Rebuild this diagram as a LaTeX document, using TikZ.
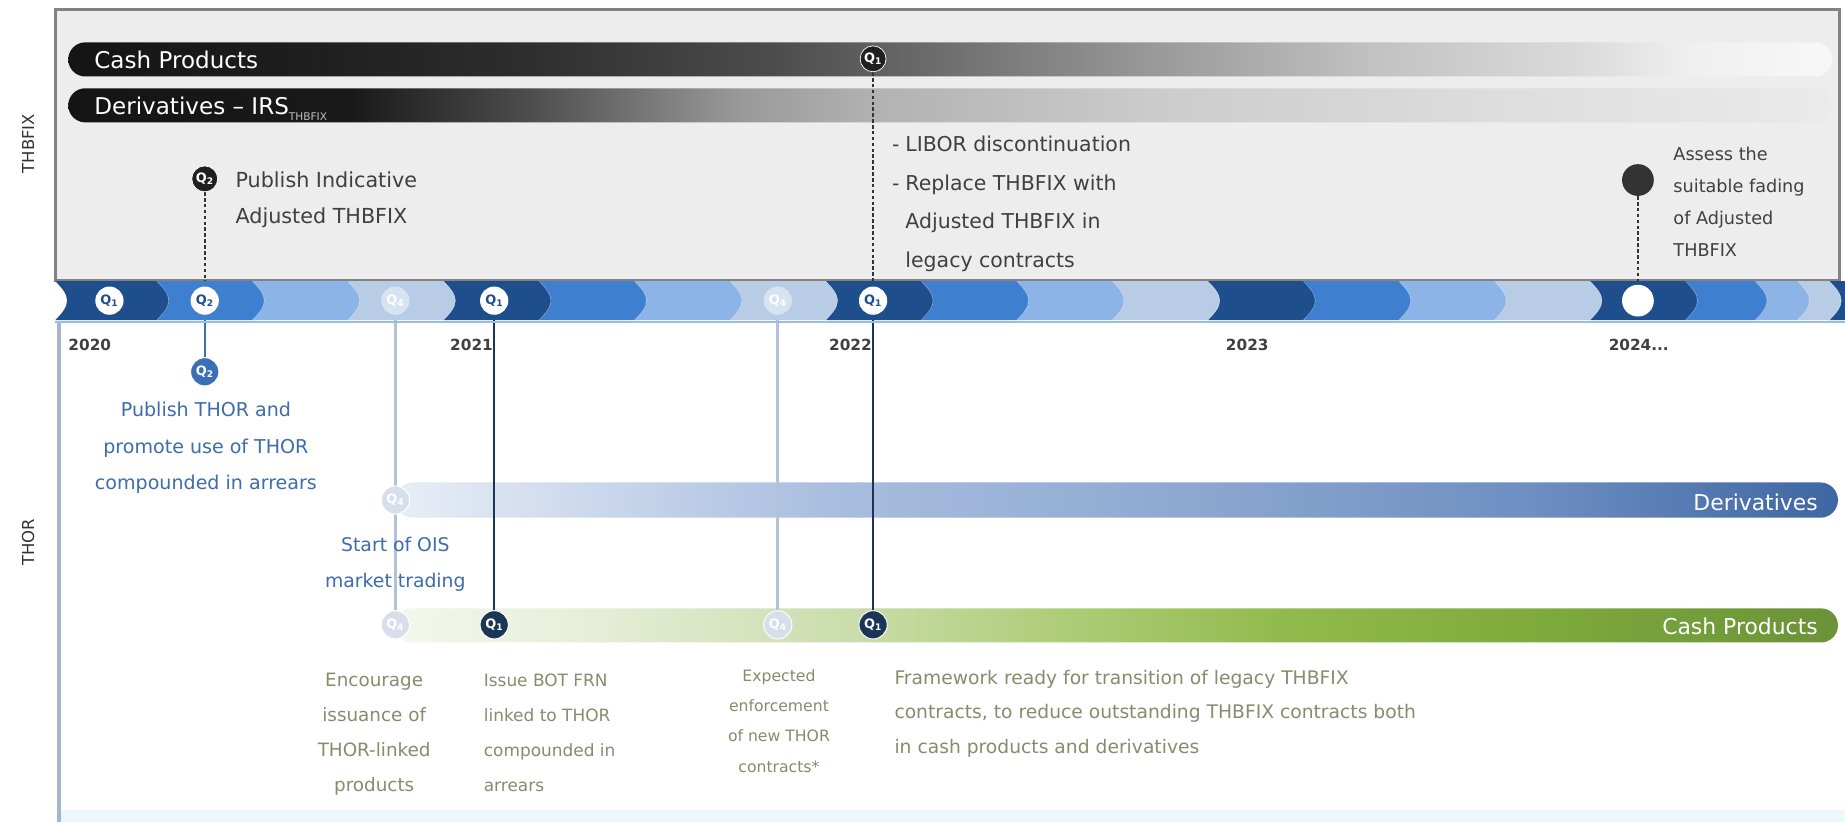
\documentclass[tikz,border=0pt]{standalone}
\usepackage{fontspec}
\setmainfont{DejaVu Sans}
\pgfdeclarelayer{bg}
\pgfdeclarelayer{bars}
\pgfdeclarelayer{lines}
\pgfdeclarelayer{band}
\pgfsetlayers{bg,bars,lines,band,main}

\definecolor{tlDark}{HTML}{1F4E8C}
\definecolor{tlMed}{HTML}{3F7FD0}
\definecolor{tlLight}{HTML}{8CB4E6}
\definecolor{tlPale}{HTML}{B8CCE6}
\definecolor{tlUnder}{HTML}{9DBCE4}
\definecolor{boxBg}{HTML}{EDEDED}
\definecolor{boxLine}{HTML}{828282}
\definecolor{navyQ}{HTML}{1B3556}
\definecolor{thorBlue}{HTML}{3A6FB5}
\definecolor{thorText}{HTML}{3D6DAA}
\definecolor{oliveText}{HTML}{8A8A6E}
\definecolor{fadeLn}{HTML}{B4C2D8}
\definecolor{fadeFill}{HTML}{D8DFEA}
\definecolor{darkText}{HTML}{404040}
\definecolor{lowStrip}{HTML}{EAF7FC}
\definecolor{lowLine}{HTML}{A5B5CA}

\definecolor{dvA}{HTML}{E8EEF6}
\definecolor{dvB}{HTML}{CCD8EC}
\definecolor{dvC}{HTML}{A9BEDF}
\definecolor{dvD}{HTML}{8EA9D1}
\definecolor{dvE}{HTML}{6E8FC2}
\definecolor{dvF}{HTML}{3F66A3}
\definecolor{gcA}{HTML}{F4F7EE}
\definecolor{gcB}{HTML}{E6EED8}
\definecolor{gcC}{HTML}{CDDEB0}
\definecolor{gcD}{HTML}{AECD78}
\definecolor{gcE}{HTML}{90BA4C}
\definecolor{gcF}{HTML}{7EAB3C}
\definecolor{gcG}{HTML}{6B9238}

\pgfdeclarehorizontalshading{topcash}{100bp}{color(0bp)=(black!92); color(25bp)=(black!92); color(32bp)=(black!88); color(38bp)=(black!82); color(45bp)=(black!70); color(48bp)=(black!62); color(55bp)=(black!42); color(62bp)=(black!24); color(68bp)=(black!14); color(71bp)=(black!6); color(75bp)=(black!3); color(100bp)=(black!3)}
\pgfdeclarehorizontalshading{topderiv}{100bp}{color(0bp)=(black!92); color(25bp)=(black!92); color(33bp)=(black!90); color(38bp)=(black!70); color(44bp)=(black!40); color(48bp)=(black!30); color(56bp)=(black!20); color(66bp)=(black!13); color(75bp)=(black!8); color(100bp)=(black!8)}
\pgfdeclarehorizontalshading{thorderiv}{100bp}{color(0bp)=(dvA); color(25bp)=(dvA); color(31.7bp)=(dvB); color(40bp)=(dvC); color(52bp)=(dvD); color(64.3bp)=(dvE); color(75bp)=(dvF); color(100bp)=(dvF)}
\pgfdeclarehorizontalshading{thorcash}{100bp}{color(0bp)=(gcA); color(25bp)=(gcA); color(31.7bp)=(gcB); color(40bp)=(gcC); color(48bp)=(gcD); color(56bp)=(gcE); color(64.3bp)=(gcF); color(75bp)=(gcG); color(100bp)=(gcG)}

\newcommand\qq[1]{Q\textsubscript{#1}}
\newcommand\txtblock[2]{\begin{tabular}[t]{@{}#1@{}}#2\end{tabular}}
\newcommand\fs[2]{\fontsize{#1}{#2}\selectfont}

\tikzset{
  sidelabel/.style={font=\fs{14}{17}, text=black!80, inner sep=0pt},
  barlabel/.style={font=\fs{18.6}{22}, text=white, inner sep=0pt},
  yearlabel/.style={font=\fs{13}{15}\bfseries, text=black!75, inner sep=0pt},
  bxtext/.style={font=\fs{17.6}{31}, text=darkText, inner sep=0pt},
  assesstext/.style={font=\fs{15}{27.3}, text=darkText, inner sep=0pt},
  thortext/.style={font=\fs{16.2}{31}, text=thorText, inner sep=0pt},
  olivetext/.style={font=\fs{15.6}{30}, text=oliveText, inner sep=0pt},
  qbase/.style={circle, minimum size=24pt, inner sep=0pt, font=\fs{11}{11}\bfseries},
  tlq/.style={qbase, fill=white, text=tlDark},
  tlqfade/.style={qbase, fill=white, fill opacity=0.45, text=white, text opacity=1},
  tlwhite/.style={qbase, fill=white, minimum size=27pt},
  bq/.style={qbase, fill=black!88, text=white, minimum size=22pt, draw=white, line width=0.6pt},
  bqbig/.style={qbase, fill=black!80, minimum size=27pt},
  hq/.style={qbase, fill=thorBlue, text=white, draw=white, line width=0.8pt},
  hqfade/.style={qbase, fill=fadeFill, text=white, draw=white, line width=0.8pt},
  hqdark/.style={qbase, fill=navyQ, text=white, draw=white, line width=0.8pt},
  dotline/.style={draw=black!80, line width=2pt, dash pattern=on 3pt off 2pt},
  blueline/.style={draw=thorBlue, line width=2pt},
  fadeline/.style={draw=fadeLn, line width=2.2pt},
  darkline/.style={draw=navyQ, line width=2.2pt},
}

\begin{document}
\begin{tikzpicture}[x=1pt,y=-1pt]
\useasboundingbox (0,0) rectangle (1568,699);

\begin{pgfonlayer}{bg}
\fill[white] (0,0) rectangle (1568,699);
\fill[boxBg] (47,8) rectangle (1563,238);
\draw[boxLine, line width=2.5pt] (47,8) rectangle (1563,238);
\fill[lowStrip] (50,688) rectangle (1568,699);
\draw[lowLine, line width=3pt] (50,274) -- (50,699);
\end{pgfonlayer}

\begin{pgfonlayer}{bars}
\path[shading=topcash, rounded corners=14.5pt] (58,36) rectangle (1557,65);
\path[shading=topderiv, rounded corners=14.5pt] (58,75) rectangle (1557,104);
\path[shading=thorderiv, rounded corners=15pt] (336,410) rectangle (1562,440);
\path[shading=thorcash, rounded corners=14.5pt] (336,517) rectangle (1562,546);
\end{pgfonlayer}

\begin{pgfonlayer}{band}
\foreach \a/\b/\c in {47/133.6/tlDark, 133.6/214.8/tlMed, 214.8/296/tlLight, 296/377.2/tlPale,
  377.2/458.4/tlDark, 458.4/539.6/tlMed, 539.6/620.8/tlLight, 620.8/702/tlPale,
  702/783.2/tlDark, 783.2/864.4/tlMed, 864.4/945.6/tlLight, 945.6/1026.8/tlPale,
  1026.8/1108/tlDark, 1108/1189.2/tlMed, 1189.2/1270.4/tlLight, 1270.4/1351.6/tlPale,
  1351.6/1432.8/tlDark, 1432.8/1492/tlMed, 1492/1528/tlLight, 1528/1555/tlPale, 1555/1600/tlDark}
  {\fill[\c] (\a,239) -- (\b,239) .. controls (\b+6,245) and (\b+10,250) .. (\b+10,255.5)
      .. controls (\b+10,261) and (\b+6,266) .. (\b,272)
      -- (\a,272) .. controls (\a+6,266) and (\a+10,261) .. (\a+10,255.5)
      .. controls (\a+10,250) and (\a+6,245) .. (\a,239) -- cycle;
   \draw[white, opacity=0.4, line width=1pt] (\b,239) .. controls (\b+6,245) and (\b+10,250) .. (\b+10,255.5)
      .. controls (\b+10,261) and (\b+6,266) .. (\b,272);}
\draw[tlUnder, line width=2pt] (47,273.5) -- (1568,273.5);
\end{pgfonlayer}

% side labels
\node[sidelabel, rotate=90] (lblTH) at (24,122) {THBFIX};
\node[sidelabel, rotate=90] (lblTO) at (24,461) {THOR};

% bar labels
\node[barlabel, font=\fs{19.6}{22}, anchor=base west] (lCashTop) at (80,58) {Cash Products};
\node[barlabel, font=\fs{19.6}{22}, anchor=base west] (lDerTop) at (80,97) {Derivatives -- IRS\raisebox{-5pt}{\fs{9}{9}\color{black!25}THBFIX}};
\node[barlabel, anchor=base east] (lDerTh) at (1545,434) {Derivatives};
\node[barlabel, anchor=base east] (lCashTh) at (1545,539) {Cash Products};

% timeline circles
\node[tlq] (t1) at (93,255.5) {\qq1};
\node[tlq] (t2) at (174,255.5) {\qq2};
\node[tlqfade] (t4) at (336,255.5) {\qq4};
\node[tlq] (t5) at (420,255.5) {\qq1};
\node[tlqfade] (t8) at (661,255.5) {\qq4};
\node[tlq] (t9) at (742,255.5) {\qq1};
\node[tlwhite] (t17) at (1392,255.5) {};

% years
\node[yearlabel, anchor=base west] (y20) at (58,298) {2020};
\node[yearlabel, anchor=base east] (y21) at (419,298) {2021};
\node[yearlabel, anchor=base east] (y22) at (741,298) {2022};
\node[yearlabel, anchor=base] (y23) at (1060,298) {2023};
\node[yearlabel, anchor=base west] (y24) at (1367,298) {2024...};

% THBFIX circles
\node[bq] (bq9) at (742,50) {\qq1};
\node[bq] (bq2) at (174,152) {\qq2};
\node[bqbig] (bq17) at (1392,153) {};

% THOR circles
\node[hq] (h2) at (174,316) {\qq2};
\node[hqfade] (d4) at (336,425) {\qq4};
\node[hqfade] (c4) at (336,531) {\qq4};
\node[hqdark] (c5) at (420,531) {\qq1};
\node[hqfade] (c8) at (661,531) {\qq4};
\node[hqdark] (c9) at (742,531) {\qq1};

\begin{pgfonlayer}{lines}
\draw[dotline] (bq9) -- (t9);
\draw[dotline] (bq2) -- (t2);
\draw[dotline] (bq17) -- (t17);
\draw[blueline] (t2) -- (h2);
\draw[fadeline] (t4) -- (c4);
\draw[darkline] (t5) -- (c5);
\draw[fadeline] (t8) -- (c8);
\draw[darkline] (t9) -- (c9);
\end{pgfonlayer}

% THBFIX texts
\node[bxtext, anchor=base west] (tPub) at (200,159) {\txtblock{l}{Publish Indicative\\Adjusted THBFIX}};
\node[bxtext, font=\fs{17.4}{32.7}, anchor=base west] (tLib) at (758,129) {\txtblock{l@{\hspace{5pt}}l}{- & LIBOR discontinuation\\- & Replace THBFIX with\\ & Adjusted THBFIX in\\ & legacy contracts}};
\node[assesstext, anchor=base west] (tAss) at (1422,136) {\txtblock{l}{Assess the\\suitable fading\\of Adjusted\\THBFIX}};

% THOR texts
\node[thortext, anchor=base] (tThor) at (175,354) {\txtblock{c}{Publish THOR and\\promote use of THOR\\compounded in arrears}};
\node[thortext, font=\fs{16}{30}, anchor=base] (tOis) at (336,469) {\txtblock{c}{Start of OIS\\market trading}};
\node[olivetext, anchor=base] (tEnc) at (318,583) {\txtblock{c}{Encourage\\issuance of\\THOR-linked\\products}};
\node[olivetext, font=\fs{14.4}{30}, anchor=base west] (tIss) at (411,583) {\txtblock{l}{Issue BOT FRN\\linked to THOR\\compounded in\\arrears}};
\node[olivetext, font=\fs{13.3}{25.7}, anchor=base] (tExp) at (662,579) {\txtblock{c}{Expected\\enforcement\\of new THOR\\contracts*}};
\node[olivetext, font=\fs{15.9}{29}, anchor=base west] (tFw) at (760,582) {\txtblock{l}{Framework ready for transition of legacy THBFIX\\contracts, to reduce outstanding THBFIX contracts both\\in cash products and derivatives}};
\end{tikzpicture}
\end{document}
